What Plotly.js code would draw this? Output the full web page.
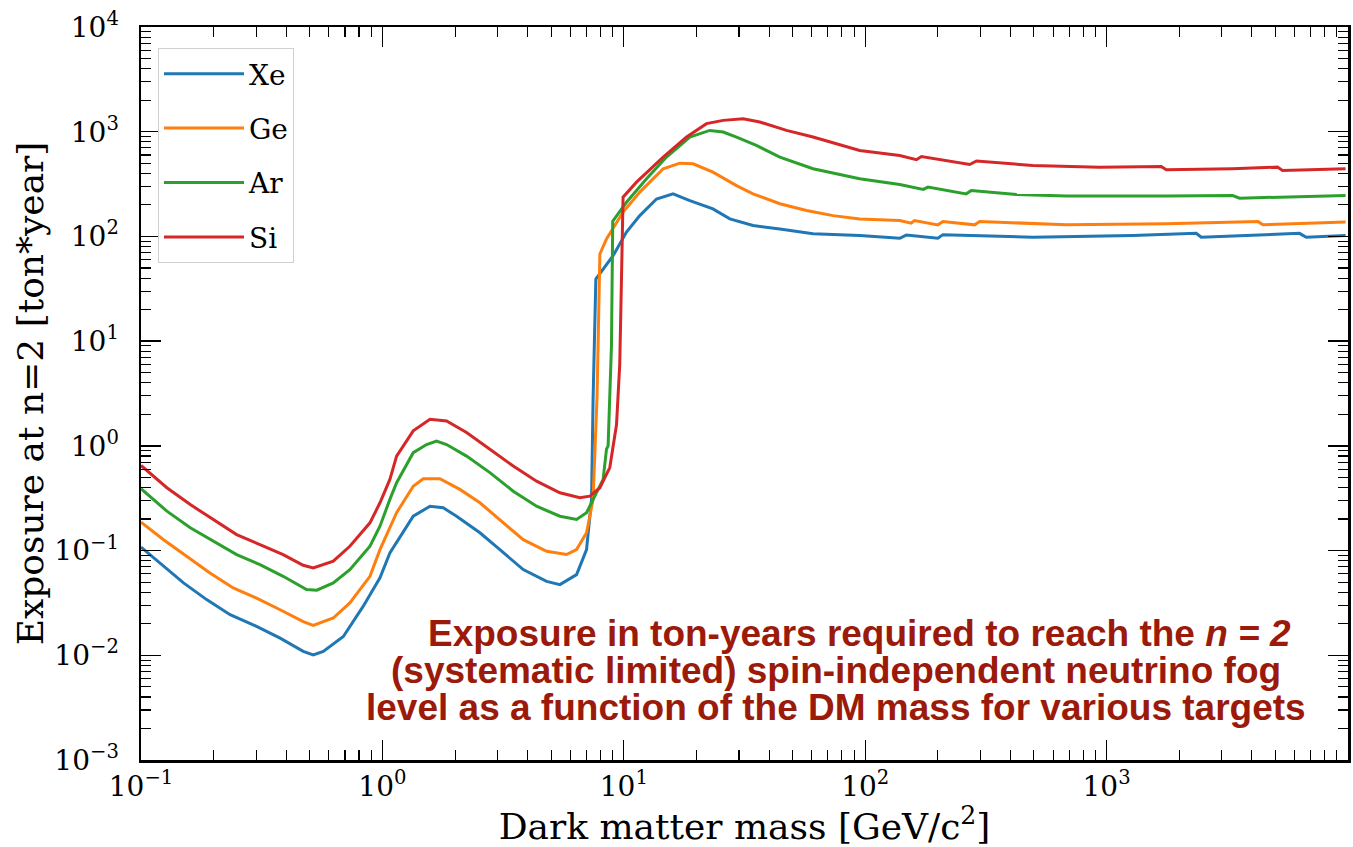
<!DOCTYPE html>
<html>
<head>
<meta charset="utf-8">
<script src="https://cdn.plot.ly/plotly-3.0.1.min.js"></script>
<style>
  html, body { margin: 0; padding: 0; background: #ffffff; }
  #chart { width: 1353px; height: 847px; }
</style>
</head>
<body>
<div id="chart"></div>
<script>
// ---- Data (mass in GeV/c^2, exposure in ton*year) ----
const seriesNames = ["Xe", "Ge", "Ar", "Si"];

const xeMass = [0.100, 0.120, 0.150, 0.187, 0.234, 0.301, 0.377, 0.470, 0.517, 0.569,
  0.689, 0.832, 0.977, 1.074, 1.145, 1.342, 1.574, 1.786, 2.029, 2.535,
  3.067, 3.831, 4.789, 5.437, 6.373, 7.009, 7.351, 7.46, 7.66, 9.03,
  10.26, 11.65, 13.66, 16.0, 18.77, 23.4, 27.5, 34.3, 44.3, 60.8,
  94.9, 139, 148, 200, 210, 494, 1285, 2351, 2466, 6296, 6714, 9770];
const xeExposure = [0.108, 0.0762, 0.0491, 0.0340, 0.0244, 0.0189, 0.0146, 0.0109, 0.0101, 0.0109,
  0.0151, 0.0293, 0.055, 0.0951, 0.119, 0.213, 0.265, 0.256, 0.213, 0.148,
  0.102, 0.0658, 0.0508, 0.0473, 0.0589, 0.102, 0.308, 2.79, 39.2, 65.5,
  110, 158, 228, 255, 220, 183, 147, 127, 118, 106,
  102, 96.1, 103, 96.1, 104, 98.2, 102, 107, 98.2, 107, 98.2, 102];

const geMass = [0.100, 0.124, 0.1545, 0.193, 0.241, 0.301, 0.377, 0.470, 0.517, 0.626,
  0.733, 0.888, 0.977, 1.074, 1.145, 1.342, 1.476, 1.730, 2.094, 2.535,
  3.165, 3.831, 4.789, 5.793, 6.373, 7.009, 7.46, 7.75, 7.96, 8.48,
  9.93, 11.65, 14.56, 17.07, 19.37, 23.4, 29.3, 34.3, 44.3, 57.1,
  73.6, 94.9, 139, 155, 160, 200, 210, 284, 298, 681,
  1767, 4236, 4440, 9770];
const geExposure = [0.187, 0.127, 0.0881, 0.0612, 0.0440, 0.0352, 0.0272, 0.0210, 0.0193, 0.0227,
  0.0316, 0.0568, 0.102, 0.165, 0.230, 0.412, 0.485, 0.485, 0.384, 0.286,
  0.184, 0.127, 0.0984, 0.0916, 0.1023, 0.148, 0.308, 3.0, 68.0, 94.6,
  171, 265, 443, 501, 494, 411, 306, 255, 205, 177,
  158, 147, 142, 134, 142, 129, 139, 129, 139, 129,
  132, 139, 129, 137];

const arMass = [0.100, 0.128, 0.160, 0.199, 0.249, 0.311, 0.388, 0.485, 0.535, 0.626,
  0.733, 0.888, 0.977, 1.074, 1.145, 1.342, 1.524, 1.676, 1.844, 2.232,
  2.788, 3.483, 4.351, 5.437, 6.373, 7.009, 7.71, 8.21, 8.48, 8.61,
  8.89, 9.0, 10.26, 12.42, 15.03, 18.77, 22.7, 25.8, 29.3, 35.4,
  44.3, 60.8, 94.9, 139, 174, 182, 262, 275, 423, 681,
  1767, 3326, 3556, 6296, 9770];
const arExposure = [0.39, 0.238, 0.165, 0.123, 0.0916, 0.0735, 0.0568, 0.0424, 0.0418, 0.0491,
  0.0658, 0.110, 0.171, 0.308, 0.445, 0.861, 1.03, 1.11, 1.03, 0.798,
  0.555, 0.369, 0.265, 0.213, 0.198, 0.230, 0.356, 0.478, 0.93, 1.0,
  9.02, 140, 212, 355, 573, 889, 1029, 993, 889, 739,
  573, 443, 355, 313, 281, 296, 255, 274, 251, 243,
  243, 246, 232, 240, 246];

const siMass = [0.100, 0.128, 0.160, 0.199, 0.249, 0.311, 0.388, 0.470, 0.517, 0.626,
  0.733, 0.888, 0.977, 1.074, 1.145, 1.342, 1.574, 1.844, 2.232, 2.788,
  3.483, 4.351, 5.437, 6.577, 7.233, 7.96, 8.75, 9.33, 9.62, 9.78,
  9.93, 11.29, 14.56, 18.2, 22.0, 25.8, 31.2, 36.6, 47.2, 60.8,
  94.9, 139, 163, 171, 271, 289, 494, 935, 1684, 1767,
  3326, 5105, 5354, 9770];
const siExposure = [0.65, 0.398, 0.275, 0.198, 0.142, 0.114, 0.0916, 0.0723, 0.0682, 0.0791,
  0.110, 0.184, 0.286, 0.478, 0.798, 1.39, 1.79, 1.73, 1.34, 0.927,
  0.641, 0.460, 0.356, 0.319, 0.331, 0.398, 0.62, 1.6, 6.0, 39,
  237, 330, 573, 889, 1194, 1283, 1331, 1238, 1029, 889,
  662, 593, 540, 580, 486, 525, 476, 459, 466, 433,
  443, 459, 426, 443];

// tick labels (decade exponents)
const xExponents = [-1, 0, 1, 2, 3];
const yExponents = [-3, -2, -1, 0, 1, 2, 3, 4];

const annotationLines = [
  "Exposure in ton-years required to reach the <i>n = 2</i>",
  "(systematic limited) spin-independent neutrino fog",
  "level as a function of the DM mass for various targets"
];

// ---- styling ----
const colors = ["#1f77b4", "#ff7f0e", "#2ca02c", "#d62728"];
const serif = "DejaVu Serif, Liberation Serif, serif";

function powLabel(e) {
  return "10<sup>" + (e < 0 ? "\u2212" + Math.abs(e) : e) + "</sup>";
}
function minorVals(lo, hi) {
  const out = [];
  for (let e = lo; e < hi; e++) {
    for (let k = 2; k <= 9; k++) out.push(k * Math.pow(10, e));
  }
  return out;
}

const massArrays = [xeMass, geMass, arMass, siMass];
const expArrays = [xeExposure, geExposure, arExposure, siExposure];

const traces = seriesNames.map((name, i) => ({
  type: "scatter",
  mode: "lines",
  name: name,
  legendgroup: name,
  x: massArrays[i],
  y: expArrays[i],
  line: { color: colors[i], width: 3 },
  hoverinfo: "x+y+name"
}));

// helper trace so the minor-tick overlay axes are drawn
traces.push({
  type: "scatter", mode: "markers", x: [1], y: [1],
  xaxis: "x2", yaxis: "y2", showlegend: false, hoverinfo: "skip",
  marker: { opacity: 0, size: 1 }
});

const L = 141, R = 5, T = 27, B = 87;
const W = 1353, H = 847;
const pw = W - L - R, ph = H - T - B;

const lineCentersX = [860, 836, 836];
const lineCentersY = [633, 670, 707];
const annotations = annotationLines.map((txt, i) => ({
  xref: "paper", yref: "paper",
  x: (lineCentersX[i] - L) / pw,
  y: (760 - lineCentersY[i]) / ph,
  xanchor: "center", yanchor: "middle",
  text: "<b>" + txt + "</b>",
  showarrow: false,
  font: { family: "Liberation Sans, Arial, sans-serif", size: 37, color: "#9b1a0a" }
}));

const layout = {
  width: W, height: H,
  margin: { l: L, r: R, t: T, b: B, pad: 0 },
  paper_bgcolor: "#ffffff",
  plot_bgcolor: "#ffffff",
  showlegend: true,
  legend: {
    x: (158 - L) / pw, y: (760 - 48) / ph,
    xanchor: "left", yanchor: "top",
    bgcolor: "rgba(255,255,255,0.9)",
    bordercolor: "#d0d0d0", borderwidth: 1,
    font: { family: serif, size: 28, color: "#000000" },
    tracegroupgap: 15,
    itemwidth: 80
  },
  xaxis: {
    type: "log",
    range: [-1, 4],
    tickmode: "array",
    tickvals: xExponents.map(e => Math.pow(10, e)),
    ticktext: xExponents.map(powLabel),
    ticks: "inside", ticklen: 20, tickwidth: 1.3, tickcolor: "#000000",
    showline: true, linecolor: "#000000", linewidth: 2.5, mirror: "allticks",
    showgrid: false, zeroline: false,
    tickfont: { family: serif, size: 28, color: "#000000" },
    ticklabelstandoff: 0,
    title: { text: "Dark matter mass [GeV/c<sup>2</sup>]", font: { family: serif, size: 36, color: "#000000" }, standoff: 0 }
  },
  yaxis: {
    type: "log",
    range: [-3, 4],
    tickmode: "array",
    tickvals: yExponents.map(e => Math.pow(10, e)),
    ticktext: yExponents.map(powLabel),
    ticks: "inside", ticklen: 20, tickwidth: 1.3, tickcolor: "#000000",
    showline: true, linecolor: "#000000", linewidth: 2.5, mirror: "allticks",
    showgrid: false, zeroline: false,
    tickfont: { family: serif, size: 28, color: "#000000" },
    ticklabelstandoff: 14,
    title: { text: "Exposure at n=2 [ton*year]", font: { family: serif, size: 36, color: "#000000" }, standoff: 0 }
  },
  xaxis2: {
    type: "log", overlaying: "x", anchor: "y", side: "bottom",
    range: [-1, 4],
    tickmode: "array", tickvals: minorVals(-1, 4),
    ticks: "inside", ticklen: 10, tickwidth: 1.1, tickcolor: "#000000",
    showticklabels: false, showgrid: false, zeroline: false, showline: false,
    mirror: "ticks"
  },
  yaxis2: {
    type: "log", overlaying: "y", anchor: "x", side: "left",
    range: [-3, 4],
    tickmode: "array", tickvals: minorVals(-3, 4),
    ticks: "inside", ticklen: 10, tickwidth: 1.1, tickcolor: "#000000",
    showticklabels: false, showgrid: false, zeroline: false, showline: false,
    mirror: "ticks"
  },
  annotations: annotations
};

Plotly.newPlot("chart", traces, layout, { displayModeBar: false, staticPlot: true });
</script>
</body>
</html>
